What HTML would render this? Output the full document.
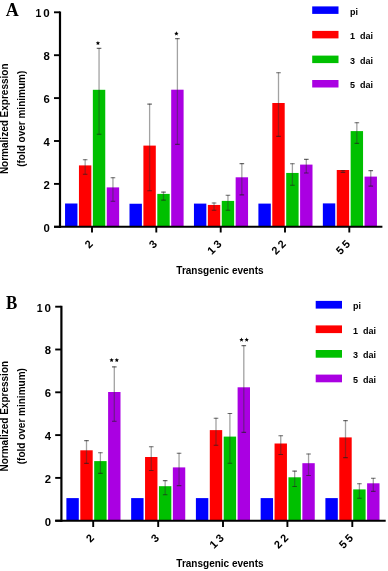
<!DOCTYPE html>
<html><head><meta charset="utf-8"><style>
html,body{margin:0;padding:0;background:#fff;}
body{width:388px;height:571px;overflow:hidden;font-family:"Liberation Sans",sans-serif;}
svg{display:block;will-change:transform;}
text{white-space:pre;}
</style></head><body>
<svg width="388" height="571" viewBox="0 0 388 571">
<rect width="388" height="571" fill="#fff"/>
<rect x="65.05" y="203.5" width="12.4" height="23.3" fill="#0000ff"/>
<rect x="78.95" y="165.4" width="12.4" height="61.4" fill="#ff0000"/>
<rect x="92.85" y="89.8" width="12.4" height="137" fill="#00c000"/>
<rect x="106.75" y="187.4" width="12.4" height="39.4" fill="#aa00e2"/>
<rect x="129.5" y="203.75" width="12.4" height="23.05" fill="#0000ff"/>
<rect x="143.4" y="145.6" width="12.4" height="81.2" fill="#ff0000"/>
<rect x="157.3" y="193.9" width="12.4" height="32.9" fill="#00c000"/>
<rect x="171.2" y="89.7" width="12.4" height="137.1" fill="#aa00e2"/>
<rect x="193.95" y="203.6" width="12.4" height="23.2" fill="#0000ff"/>
<rect x="207.85" y="204.95" width="12.4" height="21.85" fill="#ff0000"/>
<rect x="221.75" y="200.9" width="12.4" height="25.9" fill="#00c000"/>
<rect x="235.65" y="177.3" width="12.4" height="49.5" fill="#aa00e2"/>
<rect x="258.4" y="203.6" width="12.4" height="23.2" fill="#0000ff"/>
<rect x="272.3" y="103" width="12.4" height="123.8" fill="#ff0000"/>
<rect x="286.2" y="172.95" width="12.4" height="53.85" fill="#00c000"/>
<rect x="300.1" y="164.6" width="12.4" height="62.2" fill="#aa00e2"/>
<rect x="322.85" y="203.4" width="12.4" height="23.4" fill="#0000ff"/>
<rect x="336.75" y="170" width="12.4" height="56.8" fill="#ff0000"/>
<rect x="350.65" y="131.1" width="12.4" height="95.7" fill="#00c000"/>
<rect x="364.55" y="176.6" width="12.4" height="50.2" fill="#aa00e2"/>
<path d="M85.15 159.3V174.3" stroke="#303030" stroke-opacity="0.45" stroke-width="1.3" fill="none"/>
<path d="M82.85 159.7H87.45M82.85 174.3H87.45" stroke="#202020" stroke-opacity="0.65" stroke-width="1.1" fill="none"/>
<path d="M99.05 48V134.3" stroke="#303030" stroke-opacity="0.45" stroke-width="1.3" fill="none"/>
<path d="M96.75 48.4H101.35M96.75 134.3H101.35" stroke="#202020" stroke-opacity="0.65" stroke-width="1.1" fill="none"/>
<path d="M112.95 177.3V201.3" stroke="#303030" stroke-opacity="0.45" stroke-width="1.3" fill="none"/>
<path d="M110.65 177.7H115.25M110.65 201.3H115.25" stroke="#202020" stroke-opacity="0.65" stroke-width="1.1" fill="none"/>
<path d="M149.6 103.7V190.8" stroke="#303030" stroke-opacity="0.45" stroke-width="1.3" fill="none"/>
<path d="M147.3 104.1H151.9M147.3 190.8H151.9" stroke="#202020" stroke-opacity="0.65" stroke-width="1.1" fill="none"/>
<path d="M163.5 191.7V200.1" stroke="#303030" stroke-opacity="0.45" stroke-width="1.3" fill="none"/>
<path d="M161.2 192.1H165.8M161.2 200.1H165.8" stroke="#202020" stroke-opacity="0.65" stroke-width="1.1" fill="none"/>
<path d="M177.4 38.2V144.4" stroke="#303030" stroke-opacity="0.45" stroke-width="1.3" fill="none"/>
<path d="M175.1 38.6H179.7M175.1 144.4H179.7" stroke="#202020" stroke-opacity="0.65" stroke-width="1.1" fill="none"/>
<path d="M214.05 202.6V210.3" stroke="#303030" stroke-opacity="0.45" stroke-width="1.3" fill="none"/>
<path d="M211.75 203H216.35M211.75 210.3H216.35" stroke="#202020" stroke-opacity="0.65" stroke-width="1.1" fill="none"/>
<path d="M227.95 194.9V210.3" stroke="#303030" stroke-opacity="0.45" stroke-width="1.3" fill="none"/>
<path d="M225.65 195.3H230.25M225.65 210.3H230.25" stroke="#202020" stroke-opacity="0.65" stroke-width="1.1" fill="none"/>
<path d="M241.85 163.2V194.9" stroke="#303030" stroke-opacity="0.45" stroke-width="1.3" fill="none"/>
<path d="M239.55 163.6H244.15M239.55 194.9H244.15" stroke="#202020" stroke-opacity="0.65" stroke-width="1.1" fill="none"/>
<path d="M278.5 72.4V136.4" stroke="#303030" stroke-opacity="0.45" stroke-width="1.3" fill="none"/>
<path d="M276.2 72.8H280.8M276.2 136.4H280.8" stroke="#202020" stroke-opacity="0.65" stroke-width="1.1" fill="none"/>
<path d="M292.4 163.4V185.3" stroke="#303030" stroke-opacity="0.45" stroke-width="1.3" fill="none"/>
<path d="M290.1 163.8H294.7M290.1 185.3H294.7" stroke="#202020" stroke-opacity="0.65" stroke-width="1.1" fill="none"/>
<path d="M306.3 159V173" stroke="#303030" stroke-opacity="0.45" stroke-width="1.3" fill="none"/>
<path d="M304 159.4H308.6M304 173H308.6" stroke="#202020" stroke-opacity="0.65" stroke-width="1.1" fill="none"/>
<path d="M342.95 170.3V172.5" stroke="#303030" stroke-opacity="0.45" stroke-width="1.3" fill="none"/>
<path d="M340.65 170.7H345.25M340.65 172.5H345.25" stroke="#202020" stroke-opacity="0.65" stroke-width="1.1" fill="none"/>
<path d="M356.85 122.3V143.4" stroke="#303030" stroke-opacity="0.45" stroke-width="1.3" fill="none"/>
<path d="M354.55 122.7H359.15M354.55 143.4H359.15" stroke="#202020" stroke-opacity="0.65" stroke-width="1.1" fill="none"/>
<path d="M370.75 170.2V186.1" stroke="#303030" stroke-opacity="0.45" stroke-width="1.3" fill="none"/>
<path d="M368.45 170.6H373.05M368.45 186.1H373.05" stroke="#202020" stroke-opacity="0.65" stroke-width="1.1" fill="none"/>
<path d="M60 11.5V227.9" stroke="#000" stroke-width="2.2" fill="none"/>
<path d="M54 226.8H382.4" stroke="#000" stroke-width="2" fill="none"/>
<path d="M54 226.8H60" stroke="#000" stroke-width="1.9" fill="none"/>
<text transform="translate(49.8 231.6) scale(1.08 1)" text-anchor="end" font-family="Liberation Sans, sans-serif" font-weight="bold" font-size="10.5">0</text>
<path d="M54 183.9H60" stroke="#000" stroke-width="1.9" fill="none"/>
<text transform="translate(49.8 188.7) scale(1.08 1)" text-anchor="end" font-family="Liberation Sans, sans-serif" font-weight="bold" font-size="10.5">2</text>
<path d="M54 141H60" stroke="#000" stroke-width="1.9" fill="none"/>
<text transform="translate(49.8 145.8) scale(1.08 1)" text-anchor="end" font-family="Liberation Sans, sans-serif" font-weight="bold" font-size="10.5">4</text>
<path d="M54 98.1H60" stroke="#000" stroke-width="1.9" fill="none"/>
<text transform="translate(49.8 102.9) scale(1.08 1)" text-anchor="end" font-family="Liberation Sans, sans-serif" font-weight="bold" font-size="10.5">6</text>
<path d="M54 55.2H60" stroke="#000" stroke-width="1.9" fill="none"/>
<text transform="translate(49.8 60) scale(1.08 1)" text-anchor="end" font-family="Liberation Sans, sans-serif" font-weight="bold" font-size="10.5">8</text>
<path d="M54 12.3H60" stroke="#000" stroke-width="1.9" fill="none"/>
<text transform="translate(49.8 17.1) scale(1.1 1)" text-anchor="end" font-family="Liberation Sans, sans-serif" font-weight="bold" font-size="10.5">0</text>
<text transform="translate(41.4 17.1) scale(1.0 1)" text-anchor="end" font-family="Liberation Sans, sans-serif" font-weight="bold" font-size="10.5">1</text>
<path d="M92 226.8V232.5" stroke="#000" stroke-width="1.9" fill="none"/>
<path d="M156.3 226.8V232.5" stroke="#000" stroke-width="1.9" fill="none"/>
<path d="M220.7 226.8V232.5" stroke="#000" stroke-width="1.9" fill="none"/>
<path d="M285 226.8V232.5" stroke="#000" stroke-width="1.9" fill="none"/>
<path d="M349.3 226.8V232.5" stroke="#000" stroke-width="1.9" fill="none"/>
<text transform="translate(93.5 244.9) rotate(-45)" text-anchor="end" font-family="Liberation Sans, sans-serif" font-weight="bold" font-size="11" letter-spacing="-0.2">2</text>
<text transform="translate(157.8 244.9) rotate(-45)" text-anchor="end" font-family="Liberation Sans, sans-serif" font-weight="bold" font-size="11" letter-spacing="-0.2">3</text>
<text transform="translate(222.2 244.9) rotate(-45)" text-anchor="end" font-family="Liberation Sans, sans-serif" font-weight="bold" font-size="11" letter-spacing="-0.2">1 3</text>
<text transform="translate(286.5 244.9) rotate(-45)" text-anchor="end" font-family="Liberation Sans, sans-serif" font-weight="bold" font-size="11" letter-spacing="-0.2">2 2</text>
<text transform="translate(350.8 244.9) rotate(-45)" text-anchor="end" font-family="Liberation Sans, sans-serif" font-weight="bold" font-size="11" letter-spacing="-0.2">5 5</text>
<polygon points="97.95,40.9 98.56,42.36 100.14,42.49 98.93,43.52 99.3,45.06 97.95,44.23 96.6,45.06 96.97,43.52 95.76,42.49 97.34,42.36" fill="#000"/>
<polygon points="176.4,31.3 177.01,32.76 178.59,32.89 177.38,33.92 177.75,35.46 176.4,34.63 175.05,35.46 175.42,33.92 174.21,32.89 175.79,32.76" fill="#000"/>
<rect x="312.2" y="6.4" width="26.3" height="7.5" fill="#0000ff"/>
<text x="350" y="14.5" font-family="Liberation Sans, sans-serif" font-weight="bold" font-size="9" xml:space="preserve">pi</text>
<rect x="312.2" y="30.9" width="26.3" height="7.5" fill="#ff0000"/>
<text x="350" y="39" font-family="Liberation Sans, sans-serif" font-weight="bold" font-size="9" xml:space="preserve">1  dai</text>
<rect x="312.2" y="55.6" width="26.3" height="7.5" fill="#00c000"/>
<text x="350" y="63.7" font-family="Liberation Sans, sans-serif" font-weight="bold" font-size="9" xml:space="preserve">3  dai</text>
<rect x="312.2" y="80" width="26.3" height="7.5" fill="#aa00e2"/>
<text x="350" y="88.1" font-family="Liberation Sans, sans-serif" font-weight="bold" font-size="9" xml:space="preserve">5  dai</text>
<text transform="translate(5.8 16) scale(1.0 1)" font-family="Liberation Serif, serif" font-weight="bold" font-size="18">A</text>
<text transform="translate(8.4 118.8) rotate(-90)" text-anchor="middle" font-family="Liberation Sans, sans-serif" font-weight="bold" font-size="10">Normalized Expression</text>
<text transform="translate(25.4 118.8) rotate(-90)" text-anchor="middle" font-family="Liberation Sans, sans-serif" font-weight="bold" font-size="10">(fold over minimum)</text>
<text x="220" y="274.2" text-anchor="middle" font-family="Liberation Sans, sans-serif" font-weight="bold" font-size="10">Transgenic events</text>
<rect x="66.4" y="498.1" width="12.4" height="22.6" fill="#0000ff"/>
<rect x="80.3" y="450.3" width="12.4" height="70.4" fill="#ff0000"/>
<rect x="94.2" y="461.1" width="12.4" height="59.6" fill="#00c000"/>
<rect x="108.1" y="392" width="12.4" height="128.7" fill="#aa00e2"/>
<rect x="131.15" y="498.1" width="12.4" height="22.6" fill="#0000ff"/>
<rect x="145.05" y="457" width="12.4" height="63.7" fill="#ff0000"/>
<rect x="158.95" y="486.2" width="12.4" height="34.5" fill="#00c000"/>
<rect x="172.85" y="467.4" width="12.4" height="53.3" fill="#aa00e2"/>
<rect x="195.9" y="498.1" width="12.4" height="22.6" fill="#0000ff"/>
<rect x="209.8" y="430.1" width="12.4" height="90.6" fill="#ff0000"/>
<rect x="223.7" y="436.6" width="12.4" height="84.1" fill="#00c000"/>
<rect x="237.6" y="387.3" width="12.4" height="133.4" fill="#aa00e2"/>
<rect x="260.65" y="498.1" width="12.4" height="22.6" fill="#0000ff"/>
<rect x="274.55" y="443.5" width="12.4" height="77.2" fill="#ff0000"/>
<rect x="288.45" y="477.3" width="12.4" height="43.4" fill="#00c000"/>
<rect x="302.35" y="463.2" width="12.4" height="57.5" fill="#aa00e2"/>
<rect x="325.4" y="498.1" width="12.4" height="22.6" fill="#0000ff"/>
<rect x="339.3" y="437.4" width="12.4" height="83.3" fill="#ff0000"/>
<rect x="353.2" y="489.4" width="12.4" height="31.3" fill="#00c000"/>
<rect x="367.1" y="483.3" width="12.4" height="37.4" fill="#aa00e2"/>
<path d="M86.5 440.2V463.4" stroke="#303030" stroke-opacity="0.45" stroke-width="1.3" fill="none"/>
<path d="M84.2 440.6H88.8M84.2 463.4H88.8" stroke="#202020" stroke-opacity="0.65" stroke-width="1.1" fill="none"/>
<path d="M100.4 452.4V473.4" stroke="#303030" stroke-opacity="0.45" stroke-width="1.3" fill="none"/>
<path d="M98.1 452.8H102.7M98.1 473.4H102.7" stroke="#202020" stroke-opacity="0.65" stroke-width="1.1" fill="none"/>
<path d="M114.3 366.5V421.3" stroke="#303030" stroke-opacity="0.45" stroke-width="1.3" fill="none"/>
<path d="M112 366.9H116.6M112 421.3H116.6" stroke="#202020" stroke-opacity="0.65" stroke-width="1.1" fill="none"/>
<path d="M151.25 446.4V470.5" stroke="#303030" stroke-opacity="0.45" stroke-width="1.3" fill="none"/>
<path d="M148.95 446.8H153.55M148.95 470.5H153.55" stroke="#202020" stroke-opacity="0.65" stroke-width="1.1" fill="none"/>
<path d="M165.15 480.2V494.8" stroke="#303030" stroke-opacity="0.45" stroke-width="1.3" fill="none"/>
<path d="M162.85 480.6H167.45M162.85 494.8H167.45" stroke="#202020" stroke-opacity="0.65" stroke-width="1.1" fill="none"/>
<path d="M179.05 452.8V485.6" stroke="#303030" stroke-opacity="0.45" stroke-width="1.3" fill="none"/>
<path d="M176.75 453.2H181.35M176.75 485.6H181.35" stroke="#202020" stroke-opacity="0.65" stroke-width="1.1" fill="none"/>
<path d="M216 417.8V445.3" stroke="#303030" stroke-opacity="0.45" stroke-width="1.3" fill="none"/>
<path d="M213.7 418.2H218.3M213.7 445.3H218.3" stroke="#202020" stroke-opacity="0.65" stroke-width="1.1" fill="none"/>
<path d="M229.9 413.1V463.2" stroke="#303030" stroke-opacity="0.45" stroke-width="1.3" fill="none"/>
<path d="M227.6 413.5H232.2M227.6 463.2H232.2" stroke="#202020" stroke-opacity="0.65" stroke-width="1.1" fill="none"/>
<path d="M243.8 345.2V432.4" stroke="#303030" stroke-opacity="0.45" stroke-width="1.3" fill="none"/>
<path d="M241.5 345.6H246.1M241.5 432.4H246.1" stroke="#202020" stroke-opacity="0.65" stroke-width="1.1" fill="none"/>
<path d="M280.75 435.4V454.5" stroke="#303030" stroke-opacity="0.45" stroke-width="1.3" fill="none"/>
<path d="M278.45 435.8H283.05M278.45 454.5H283.05" stroke="#202020" stroke-opacity="0.65" stroke-width="1.1" fill="none"/>
<path d="M294.65 470.7V486.5" stroke="#303030" stroke-opacity="0.45" stroke-width="1.3" fill="none"/>
<path d="M292.35 471.1H296.95M292.35 486.5H296.95" stroke="#202020" stroke-opacity="0.65" stroke-width="1.1" fill="none"/>
<path d="M308.55 453.6V475.5" stroke="#303030" stroke-opacity="0.45" stroke-width="1.3" fill="none"/>
<path d="M306.25 454H310.85M306.25 475.5H310.85" stroke="#202020" stroke-opacity="0.65" stroke-width="1.1" fill="none"/>
<path d="M345.5 420.2V457.6" stroke="#303030" stroke-opacity="0.45" stroke-width="1.3" fill="none"/>
<path d="M343.2 420.6H347.8M343.2 457.6H347.8" stroke="#202020" stroke-opacity="0.65" stroke-width="1.1" fill="none"/>
<path d="M359.4 483.3V498.3" stroke="#303030" stroke-opacity="0.45" stroke-width="1.3" fill="none"/>
<path d="M357.1 483.7H361.7M357.1 498.3H361.7" stroke="#202020" stroke-opacity="0.65" stroke-width="1.1" fill="none"/>
<path d="M373.3 477.9V491.4" stroke="#303030" stroke-opacity="0.45" stroke-width="1.3" fill="none"/>
<path d="M371 478.3H375.6M371 491.4H375.6" stroke="#202020" stroke-opacity="0.65" stroke-width="1.1" fill="none"/>
<path d="M61.4 305.8V521.8" stroke="#000" stroke-width="2.2" fill="none"/>
<path d="M55.2 520.7H385.7" stroke="#000" stroke-width="2" fill="none"/>
<path d="M55.2 520.7H61.4" stroke="#000" stroke-width="1.9" fill="none"/>
<text transform="translate(51 525.5) scale(1.08 1)" text-anchor="end" font-family="Liberation Sans, sans-serif" font-weight="bold" font-size="10.5">0</text>
<path d="M55.2 477.9H61.4" stroke="#000" stroke-width="1.9" fill="none"/>
<text transform="translate(51 482.7) scale(1.08 1)" text-anchor="end" font-family="Liberation Sans, sans-serif" font-weight="bold" font-size="10.5">2</text>
<path d="M55.2 435.1H61.4" stroke="#000" stroke-width="1.9" fill="none"/>
<text transform="translate(51 439.9) scale(1.08 1)" text-anchor="end" font-family="Liberation Sans, sans-serif" font-weight="bold" font-size="10.5">4</text>
<path d="M55.2 392.3H61.4" stroke="#000" stroke-width="1.9" fill="none"/>
<text transform="translate(51 397.1) scale(1.08 1)" text-anchor="end" font-family="Liberation Sans, sans-serif" font-weight="bold" font-size="10.5">6</text>
<path d="M55.2 349.5H61.4" stroke="#000" stroke-width="1.9" fill="none"/>
<text transform="translate(51 354.3) scale(1.08 1)" text-anchor="end" font-family="Liberation Sans, sans-serif" font-weight="bold" font-size="10.5">8</text>
<path d="M55.2 306.7H61.4" stroke="#000" stroke-width="1.9" fill="none"/>
<text transform="translate(51 311.5) scale(1.1 1)" text-anchor="end" font-family="Liberation Sans, sans-serif" font-weight="bold" font-size="10.5">0</text>
<text transform="translate(42.6 311.5) scale(1.0 1)" text-anchor="end" font-family="Liberation Sans, sans-serif" font-weight="bold" font-size="10.5">1</text>
<path d="M93.2 520.7V527" stroke="#000" stroke-width="1.9" fill="none"/>
<path d="M158.2 520.7V527" stroke="#000" stroke-width="1.9" fill="none"/>
<path d="M223 520.7V527" stroke="#000" stroke-width="1.9" fill="none"/>
<path d="M287.4 520.7V527" stroke="#000" stroke-width="1.9" fill="none"/>
<path d="M352.3 520.7V527" stroke="#000" stroke-width="1.9" fill="none"/>
<text transform="translate(94.7 538.8) rotate(-45)" text-anchor="end" font-family="Liberation Sans, sans-serif" font-weight="bold" font-size="11" letter-spacing="-0.2">2</text>
<text transform="translate(159.7 538.8) rotate(-45)" text-anchor="end" font-family="Liberation Sans, sans-serif" font-weight="bold" font-size="11" letter-spacing="-0.2">3</text>
<text transform="translate(224.5 538.8) rotate(-45)" text-anchor="end" font-family="Liberation Sans, sans-serif" font-weight="bold" font-size="11" letter-spacing="-0.2">1 3</text>
<text transform="translate(288.9 538.8) rotate(-45)" text-anchor="end" font-family="Liberation Sans, sans-serif" font-weight="bold" font-size="11" letter-spacing="-0.2">2 2</text>
<text transform="translate(353.8 538.8) rotate(-45)" text-anchor="end" font-family="Liberation Sans, sans-serif" font-weight="bold" font-size="11" letter-spacing="-0.2">5 5</text>
<polygon points="111.6,357.9 112.21,359.36 113.79,359.49 112.58,360.52 112.95,362.06 111.6,361.24 110.25,362.06 110.62,360.52 109.41,359.49 110.99,359.36" fill="#000"/>
<polygon points="116.8,357.9 117.41,359.36 118.99,359.49 117.78,360.52 118.15,362.06 116.8,361.24 115.45,362.06 115.82,360.52 114.61,359.49 116.19,359.36" fill="#000"/>
<polygon points="241.5,337.5 242.11,338.96 243.69,339.09 242.48,340.12 242.85,341.66 241.5,340.84 240.15,341.66 240.52,340.12 239.31,339.09 240.89,338.96" fill="#000"/>
<polygon points="246.7,337.5 247.31,338.96 248.89,339.09 247.68,340.12 248.05,341.66 246.7,340.84 245.35,341.66 245.72,340.12 244.51,339.09 246.09,338.96" fill="#000"/>
<rect x="315.7" y="300.9" width="26.3" height="7.7" fill="#0000ff"/>
<text x="353" y="309" font-family="Liberation Sans, sans-serif" font-weight="bold" font-size="9" xml:space="preserve">pi</text>
<rect x="315.7" y="325.4" width="26.3" height="7.7" fill="#ff0000"/>
<text x="353" y="333.5" font-family="Liberation Sans, sans-serif" font-weight="bold" font-size="9" xml:space="preserve">1  dai</text>
<rect x="315.7" y="350" width="26.3" height="7.7" fill="#00c000"/>
<text x="353" y="358.1" font-family="Liberation Sans, sans-serif" font-weight="bold" font-size="9" xml:space="preserve">3  dai</text>
<rect x="315.7" y="374.6" width="26.3" height="7.7" fill="#aa00e2"/>
<text x="353" y="382.7" font-family="Liberation Sans, sans-serif" font-weight="bold" font-size="9" xml:space="preserve">5  dai</text>
<text transform="translate(6.1 309.3) scale(0.94 1)" font-family="Liberation Serif, serif" font-weight="bold" font-size="18">B</text>
<text transform="translate(8.4 416.2) rotate(-90)" text-anchor="middle" font-family="Liberation Sans, sans-serif" font-weight="bold" font-size="10">Normalized Expression</text>
<text transform="translate(25.4 416.2) rotate(-90)" text-anchor="middle" font-family="Liberation Sans, sans-serif" font-weight="bold" font-size="10">(fold over minimum)</text>
<text x="220" y="567.2" text-anchor="middle" font-family="Liberation Sans, sans-serif" font-weight="bold" font-size="10">Transgenic events</text>
</svg>
</body></html>
